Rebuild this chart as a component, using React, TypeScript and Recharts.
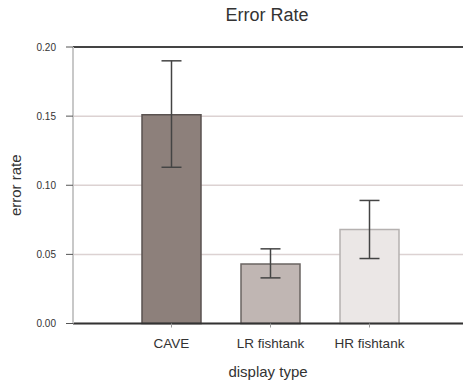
import { BarChart, Bar, Cell, XAxis, YAxis, CartesianGrid, ErrorBar, ReferenceLine } from 'recharts'

// display types along the x axis
const categories = ['CAVE', 'LR fishtank', 'HR fishtank']
// mean error rate per display type
const means = [0.151, 0.043, 0.068]
// error bar ends
const lows = [0.113, 0.033, 0.047]
const highs = [0.19, 0.054, 0.089]
const yTicks = [0, 0.05, 0.1, 0.15, 0.2]

const fills = ['#8d807b', '#c0b6b3', '#ebe7e6']
const strokes = ['#5a5250', '#6a6462', '#b5b1b0']

const FONT = '"Liberation Sans", Arial, sans-serif'

const data = categories.map((name, i) => ({
  name,
  value: means[i],
  err: [means[i] - lows[i], highs[i] - means[i]],
}))

export default function App() {
  return (
    <div style={{ position: 'absolute', left: 0, top: 0, width: 463, height: 385, fontFamily: FONT, background: '#fff' }}>
      <div
        style={{
          position: 'absolute',
          top: 5,
          left: 0,
          width: 534,
          textAlign: 'center',
          fontSize: 18,
          color: '#333',
        }}
      >
        Error Rate
      </div>
      <BarChart
        width={463}
        height={385}
        data={data}
        margin={{ top: 47, right: 0, left: 0, bottom: 0 }}
        barSize={59}
        style={{ fontFamily: FONT }}
      >
        <CartesianGrid vertical={false} stroke="#dcd2d2" strokeWidth={1.5} />
        <XAxis
          dataKey="name"
          height={61.5}
          padding={{ left: 49, right: 44 }}
          axisLine={{ stroke: '#333', strokeWidth: 2 }}
          tickLine={{ stroke: '#999' }}
          tickSize={4}
          tickMargin={11}
          tick={{ fontSize: 13.5, fill: '#333' }}
          label={{ value: 'display type', position: 'insideBottom', offset: 8, style: { fontSize: 15, fill: '#333' } }}
        />
        <YAxis
          width={73}
          domain={[0, 0.2]}
          ticks={yTicks}
          interval={0}
          tickFormatter={(v: number) => v.toFixed(2)}
          axisLine={{ stroke: '#c8c8c8', strokeWidth: 2 }}
          tickLine={{ stroke: '#555' }}
          tickSize={7}
          tickMargin={10}
          tick={{ fontSize: 10, fill: '#333' }}
          label={{
            value: 'error rate',
            angle: -90,
            position: 'insideLeft',
            offset: 16,
            style: { fontSize: 15, fill: '#333', textAnchor: 'middle' },
          }}
        />
        <ReferenceLine y={0.2} stroke="#444" strokeWidth={2} />
        <Bar dataKey="value" isAnimationActive={false} strokeWidth={1.5}>
          {data.map((d, i) => (
            <Cell key={d.name} fill={fills[i]} stroke={strokes[i]} />
          ))}
          <ErrorBar dataKey="err" width={10} stroke="#444" strokeWidth={1.5} />
        </Bar>
      </BarChart>
    </div>
  )
}
